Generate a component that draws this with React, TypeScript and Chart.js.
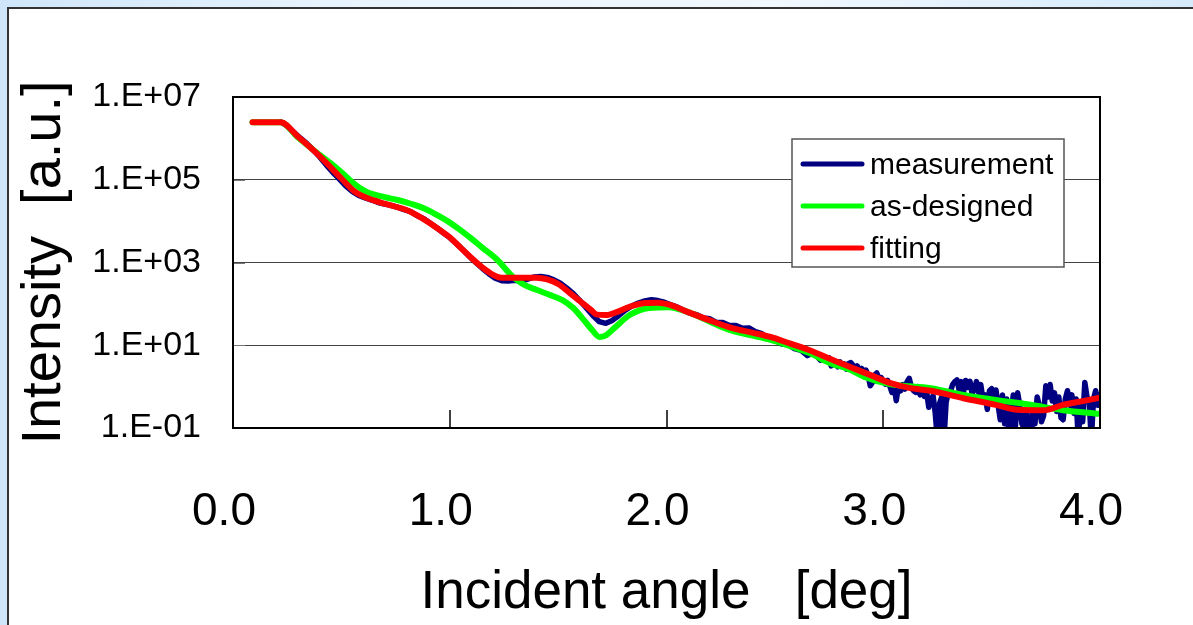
import React, { useEffect, useRef } from "react";
import { Chart, registerables } from "chart.js";

Chart.register(...registerables);

const FONT = "'Liberation Sans', Arial, Helvetica, sans-serif";

const xTickValues = [0, 1, 2, 3, 4];
const yTickValues = [0.1, 10, 1e3, 1e5, 1e7];
const yTickLabels = ["1.E-01", "1.E+01", "1.E+03", "1.E+05", "1.E+07"];
const seriesNames = ["measurement", "as-designed", "fitting"];
const seriesColors = ["#000080", "#00ff00", "#ff0000"];

// all intensities stored as log10(Intensity)
const measurementAngle = [
  0.22, 0.25, 0.28, 0.31, 0.34, 0.37, 0.4, 0.43, 0.46, 0.49, 0.52, 0.55, 0.58, 0.61, 0.64, 0.67, 0.7, 0.73, 0.76, 0.79,
  0.82, 0.85, 0.88, 0.91, 0.94, 0.97, 1.0, 1.03, 1.06, 1.09, 1.12, 1.15, 1.18, 1.21, 1.24, 1.27, 1.3, 1.33, 1.36, 1.39,
  1.42, 1.45, 1.48, 1.51, 1.54, 1.57, 1.6, 1.63, 1.66, 1.69, 1.72, 1.75, 1.78, 1.81, 1.84, 1.87, 1.9, 1.93, 1.96, 1.99,
  2.02, 2.05, 2.08, 2.11, 2.14, 2.17, 2.2, 2.23, 2.26, 2.29, 2.32, 2.35, 2.38, 2.41, 2.44, 2.47, 2.5, 2.53, 2.56, 2.59,
  2.62, 2.65, 2.68, 2.71, 2.74,
  2.75, 2.76, 2.77, 2.78, 2.79, 2.8, 2.81, 2.82, 2.83, 2.84, 2.85, 2.86, 2.87, 2.88, 2.89, 2.9, 2.91, 2.92, 2.93, 2.94,
  2.95, 2.96, 2.97, 2.98, 2.99, 3.0, 3.01, 3.02, 3.03, 3.04, 3.05, 3.06, 3.07, 3.08, 3.09, 3.1, 3.11, 3.12, 3.13, 3.14,
  3.15, 3.16, 3.17, 3.18, 3.19, 3.2, 3.21, 3.22, 3.23, 3.24, 3.25, 3.26, 3.27, 3.28, 3.29, 3.3, 3.31, 3.32, 3.33, 3.34,
  3.35, 3.36, 3.37, 3.38, 3.39, 3.4, 3.41, 3.42, 3.43, 3.44, 3.45, 3.46, 3.47, 3.48, 3.49, 3.5, 3.51, 3.52, 3.53, 3.54,
  3.55, 3.56, 3.57, 3.58, 3.59, 3.6, 3.61, 3.62, 3.63, 3.64, 3.65, 3.66, 3.67, 3.68, 3.69, 3.7, 3.71, 3.72, 3.73, 3.74,
  3.75, 3.76, 3.77, 3.78, 3.79, 3.8, 3.81, 3.82, 3.83, 3.84, 3.85, 3.86, 3.87, 3.88, 3.89, 3.9, 3.91, 3.92, 3.93, 3.94,
  3.95, 3.96, 3.97, 3.98, 3.99, 4.0,
];
const measurementLog10 = [
  6.4, 6.3, 6.15, 6.01, 5.88, 5.72, 5.55, 5.36, 5.18, 5.02, 4.85, 4.72, 4.62, 4.56, 4.51, 4.45, 4.41, 4.38, 4.33, 4.28,
  4.23, 4.13, 4.06, 3.95, 3.84, 3.72, 3.6, 3.46, 3.31, 3.15, 3.0, 2.86, 2.73, 2.62, 2.56, 2.55, 2.57, 2.55, 2.6, 2.65,
  2.66, 2.64, 2.58, 2.5, 2.38, 2.25, 2.08, 1.9, 1.72, 1.57, 1.53, 1.6, 1.72, 1.85, 1.95, 2.02, 2.07, 2.1, 2.08, 2.04,
  1.98, 1.92, 1.84, 1.77, 1.74, 1.66, 1.64, 1.55, 1.55, 1.48, 1.48, 1.41, 1.42, 1.33, 1.28, 1.17, 1.13, 1.03, 1.02, 0.92,
  0.88, 0.75, 0.82, 0.64, 0.7,
  0.7, 0.5, 0.62, 0.58, 0.48, 0.6, 0.5, 0.55, 0.42, 0.56, 0.58, 0.52, 0.42, 0.5, 0.34, 0.44, 0.32, 0.4, 0.28, 0.02,
  0.1, 0.28, 0.33, 0.2, 0.22, 0.14, 0.06, 0.15, 0.02, -0.14, 0.02, -0.34, 0.0, -0.1, 0.05, -0.06, 0.12, 0.2, -0.02, -0.1,
  -0.14, 0.0, -0.2, -0.05, -0.24, -0.12, -0.5, -0.3, -0.22, -0.65, -1.3, -0.4, -0.25, -1.3, -0.38, -0.15, -0.12, 0.05, 0.12, 0.16,
  -0.08, 0.12, -0.14, 0.15, -0.02, 0.13, -0.18, -0.05, 0.12, -0.14, 0.05, -0.3, -0.2, -0.55, -0.1, -0.05, -0.35, -0.08, -0.45, -0.8,
  -0.2, -0.9, -0.3, -1.3, -0.65, -0.2, -0.95, -0.15, -0.45, -0.9, -1.0, -0.6, -0.95, -1.3, -0.5, -0.9, -0.25, -0.45, -0.85, -0.7,
  0.02, -0.25, 0.05, -0.35, -0.15, -0.6, -0.25, -0.75, -0.8, -0.3, -0.1, -0.45, -0.2, -0.65, -0.3, -1.3, -0.4, -0.85, 0.1, -0.25,
  -0.35, -1.3, -0.3, -0.1, -0.45, -0.2,
];

const designAngle = [
  0.09, 0.22, 0.3, 0.4, 0.45, 0.5, 0.54, 0.58, 0.62, 0.7, 0.76, 0.82, 0.88, 0.94, 0.99, 1.04, 1.09, 1.15, 1.22, 1.29,
  1.34, 1.4, 1.46, 1.52, 1.57, 1.62, 1.66, 1.69, 1.72, 1.76, 1.83, 1.92, 2.01, 2.1, 2.2, 2.29, 2.38, 2.48, 2.57, 2.66,
  2.75, 2.85, 2.91, 3.03, 3.22, 3.37, 3.52, 3.68, 3.83, 4.0,
];
const designLog10 = [
  6.39, 6.39, 6.02, 5.6, 5.4, 5.18, 4.99, 4.82, 4.7, 4.58, 4.51, 4.42, 4.31, 4.15, 4.0, 3.82, 3.62, 3.36, 3.06, 2.66,
  2.47, 2.34, 2.22, 2.09, 1.9, 1.6, 1.35, 1.2, 1.24, 1.42, 1.73, 1.9, 1.92, 1.8, 1.57, 1.37, 1.25, 1.13, 0.98, 0.81,
  0.58, 0.4, 0.24, 0.06, -0.04, -0.2, -0.32, -0.44, -0.57, -0.66,
];

const fittingAngle = [
  0.09, 0.22, 0.3, 0.4, 0.5, 0.56, 0.6, 0.65, 0.7, 0.8, 0.85, 0.9, 0.95, 1.0, 1.05, 1.1, 1.15, 1.2, 1.23, 1.3,
  1.4, 1.45, 1.5, 1.55, 1.6, 1.65, 1.68, 1.72, 1.77, 1.83, 1.9, 1.96, 2.02, 2.1, 2.2, 2.3, 2.4, 2.48, 2.56, 2.66,
  2.75, 2.85, 2.95, 3.03, 3.12, 3.22, 3.37, 3.52, 3.62, 3.74, 3.83, 3.92, 4.0,
];
const fittingLog10 = [
  6.39, 6.39, 6.04, 5.57, 5.03, 4.72, 4.6, 4.5, 4.42, 4.27, 4.14, 3.98, 3.8, 3.61, 3.36, 3.11, 2.88, 2.7, 2.64, 2.63,
  2.63, 2.59, 2.48, 2.28, 2.07, 1.86, 1.74, 1.73, 1.8, 1.93, 2.02, 2.03, 1.97, 1.8, 1.6, 1.42, 1.3, 1.2, 1.06, 0.88,
  0.68, 0.47, 0.26, 0.09, -0.03, -0.1, -0.28, -0.44, -0.56, -0.57, -0.44, -0.35, -0.27,
];

const toPoints = (xs: number[], logs: number[]) => xs.map((x, i) => ({ x, y: Math.pow(10, logs[i]) }));

const decorPlugin = {
  id: "decor",
  beforeDatasetsDraw(chart: any) {
    const { ctx, chartArea, scales } = chart;
    ctx.save();
    ctx.strokeStyle = "#000";
    ctx.lineWidth = 1.5;
    for (const v of xTickValues) {
      const px = Math.round(scales.x.getPixelForValue(v));
      ctx.beginPath();
      ctx.moveTo(px, chartArea.bottom);
      ctx.lineTo(px, chartArea.bottom - 18);
      ctx.stroke();
    }
    ctx.strokeStyle = "#777";
    ctx.lineWidth = 1;
    for (const v of yTickValues) {
      const py = Math.round(scales.y.getPixelForValue(v)) + 0.5;
      ctx.beginPath();
      ctx.moveTo(chartArea.left, py);
      ctx.lineTo(chartArea.left + 12, py);
      ctx.stroke();
    }
    ctx.restore();
  },
  afterDatasetsDraw(chart: any) {
    const { ctx, chartArea } = chart;
    ctx.save();
    ctx.strokeStyle = "#000";
    ctx.lineWidth = 2;
    ctx.strokeRect(chartArea.left, chartArea.top, chartArea.right - chartArea.left, chartArea.bottom - chartArea.top);

    // legend box
    const bx = chartArea.right - 308;
    const by = chartArea.top + 42;
    const bw = 272;
    const bh = 128;
    ctx.fillStyle = "#fff";
    ctx.fillRect(bx, by, bw, bh);
    ctx.strokeStyle = "#555";
    ctx.lineWidth = 1.5;
    ctx.strokeRect(bx, by, bw, bh);
    ctx.font = `30px ${FONT}`;
    ctx.textBaseline = "alphabetic";
    ctx.textAlign = "left";
    ctx.lineCap = "round";
    seriesNames.forEach((name, i) => {
      const ly = by + 25 + i * 42;
      ctx.strokeStyle = seriesColors[i];
      ctx.lineWidth = 5;
      ctx.beginPath();
      ctx.moveTo(bx + 11, ly);
      ctx.lineTo(bx + 70, ly);
      ctx.stroke();
      ctx.fillStyle = "#000";
      ctx.fillText(name, bx + 78, ly + 10);
    });
    ctx.restore();
  },
};

export default function App() {
  const canvasRef = useRef<HTMLCanvasElement | null>(null);

  useEffect(() => {
    const canvas = canvasRef.current;
    if (!canvas) return;
    const chart = new Chart(canvas, {
      type: "line",
      data: {
        datasets: [
          {
            label: seriesNames[0],
            data: toPoints(measurementAngle, measurementLog10),
            borderColor: seriesColors[0],
            backgroundColor: seriesColors[0],
            borderWidth: 5.5,
            pointRadius: 0,
            tension: 0,
            borderJoinStyle: "round",
            borderCapStyle: "round",
            clip: 0,
            order: 3,
          },
          {
            label: seriesNames[1],
            data: toPoints(designAngle, designLog10),
            borderColor: seriesColors[1],
            backgroundColor: seriesColors[1],
            borderWidth: 6,
            pointRadius: 0,
            cubicInterpolationMode: "monotone",
            borderJoinStyle: "round",
            borderCapStyle: "round",
            clip: 0,
            order: 2,
          },
          {
            label: seriesNames[2],
            data: toPoints(fittingAngle, fittingLog10),
            borderColor: seriesColors[2],
            backgroundColor: seriesColors[2],
            borderWidth: 6,
            pointRadius: 0,
            cubicInterpolationMode: "monotone",
            borderJoinStyle: "round",
            borderCapStyle: "round",
            clip: 0,
            order: 1,
          },
        ] as any,
      },
      options: {
        animation: false,
        responsive: false,
        maintainAspectRatio: false,
        layout: { padding: { top: 97, right: 93, left: 0, bottom: 0 } },
        plugins: {
          legend: { display: false },
          tooltip: { enabled: false },
        },
        scales: {
          x: {
            type: "linear",
            min: 0,
            max: 4,
            afterFit(s: any) {
              s.height = 197;
            },
            afterBuildTicks(s: any) {
              s.ticks = xTickValues.map((v) => ({ value: v }));
            },
            grid: { display: false, drawTicks: false },
            border: { display: true, color: "#000", width: 2 },
            ticks: {
              color: "#000",
              font: { family: FONT, size: 46 },
              padding: 57,
              labelOffset: -9,
              maxRotation: 0,
              autoSkip: false,
              callback: (v: any) => Number(v).toFixed(1),
            },
            title: {
              display: true,
              text: "Incident angle   [deg]",
              color: "#000",
              font: { family: FONT, size: 53 },
              padding: { top: 0, bottom: 0 },
            },
          },
          y: {
            type: "logarithmic",
            min: 0.1,
            max: 1e7,
            afterFit(s: any) {
              s.width = 233;
            },
            afterBuildTicks(s: any) {
              s.ticks = yTickValues.map((v) => ({ value: v }));
            },
            grid: { color: "#444", lineWidth: 1, drawTicks: false },
            border: { display: true, color: "#000", width: 2 },
            ticks: {
              color: "#000",
              font: { family: FONT, size: 34 },
              padding: 32,
              autoSkip: false,
              callback: (v: any) => {
                const idx = yTickValues.findIndex((t) => Math.abs(Math.log10(t) - Math.log10(Number(v))) < 1e-6);
                return idx >= 0 ? yTickLabels[idx] : "";
              },
            },
            title: {
              display: true,
              text: "Intensity  [a.u.]",
              color: "#000",
              font: { family: FONT, size: 56 },
              padding: { top: 11, bottom: 0 },
            },
          },
        },
      } as any,
      plugins: [decorPlugin],
    });
    return () => chart.destroy();
  }, []);

  return (
    <div
      style={{
        position: "fixed",
        left: 0,
        top: 0,
        width: 1193,
        height: 625,
        overflow: "hidden",
        background: "linear-gradient(90deg, #cfe6fa 0%, #e9f4fd 30%, #f1f8fe 65%, #d5eafb 100%)",
      }}
    >
      <div
        style={{
          position: "absolute",
          left: 7,
          top: 7,
          width: 1200,
          height: 630,
          background: "#fff",
          borderTop: "2px solid #333",
          borderLeft: "2px solid #333",
          boxSizing: "border-box",
        }}
      />
      <canvas
        ref={canvasRef}
        width={1193}
        height={625}
        style={{ position: "absolute", left: 0, top: 0, width: 1193, height: 625 }}
      />
    </div>
  );
}
